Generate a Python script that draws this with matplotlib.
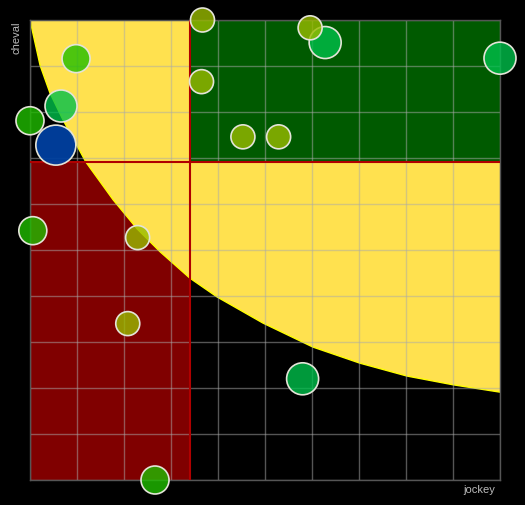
import matplotlib
matplotlib.use('Agg')
import matplotlib.pyplot as plt
from matplotlib.colors import to_rgba

W, H = 525, 505
DPI = 100

# bubbles: jockey score, cheval score, level (1..4)
jockey = [62.8, 59.6, 36.7, 100.0, 9.8, 36.5, 0.0, 6.6, 5.5, 45.3, 52.9, 0.6, 22.9, 20.8, 58.0, 26.6]
cheval = [95.1, 98.3, 100.0, 91.7, 91.6, 86.6, 78.1, 81.3, 72.8, 74.6, 74.6, 54.2, 52.7, 34.0, 22.0, 0.0]
niveau = [3, 1, 1, 3, 2, 1, 2, 3, 4, 1, 1, 2, 1, 1, 3, 2]

# limit curve
courbe_x = [0, 2.13, 4.26, 7.02, 11.9, 17.7, 22.8, 27.7, 34.0, 39.8, 49.6, 60.2, 70.2, 80.2, 90.0, 100]
courbe_y = [100, 90.2, 84.1, 78.3, 69.1, 60.9, 54.6, 49.6, 43.9, 39.8, 34.1, 28.9, 25.4, 22.6, 20.7, 19.1]

seuil_jockey = 34.0
seuil_cheval = 69.1

LEVEL_STYLE = {
    1: ('#99bb00', 0.8, 12),
    2: ('#20be00', 0.8, 14),
    3: ('#00c04b', 0.8, 16),
    4: ('#0040a0', 0.95, 20),
}

fig = plt.figure(figsize=(W / DPI, H / DPI), dpi=DPI)
fig.patch.set_facecolor('black')
ax = fig.add_axes([30 / W, 25 / H, 470 / W, 460 / H])
ax.set_facecolor('black')
ax.set_xlim(0, 100)
ax.set_ylim(0, 100)

# zones
ax.fill_between([0, seuil_jockey], 0, seuil_cheval, color='#800000', lw=0, zorder=1)
poly_x = courbe_x + [100, 0]
poly_y = courbe_y + [100, 100]
ax.fill(poly_x, poly_y, color='#ffe14f', lw=0, zorder=1.2)
ax.plot(courbe_x, courbe_y, color='#ffff00', lw=1.0, zorder=1.3)
ax.fill_between([seuil_jockey, 100], seuil_cheval, 100, color='#005a00', lw=0, zorder=1.4)

# grid
ax.set_xticks(range(0, 101, 10))
ax.set_yticks(range(0, 101, 10))
ax.tick_params(length=0, labelbottom=False, labelleft=False)
ax.set_axisbelow(False)
ax.grid(True, color='#aaaaaa', alpha=0.5, lw=1.0)
for s in ax.spines.values():
    s.set_color('#555555')
    s.set_linewidth(1.0)
    s.set_zorder(2.6)

# thresholds
ax.axvline(seuil_jockey, color='#b00000', lw=1.5, zorder=3)
ax.axhline(seuil_cheval, color='#b00000', lw=1.5, zorder=3)

# bubbles
faces, sizes = [], []
for n in niveau:
    col, a, r = LEVEL_STYLE[n]
    faces.append(to_rgba(col, a))
    d_pt = 2 * r * 72 / DPI
    sizes.append(d_pt ** 2)
ax.scatter(jockey, cheval, s=sizes, c=faces, edgecolors='#e4e4d8',
           linewidths=1.2, zorder=4, clip_on=False)

fig.text(16 / W, 1 - 22 / H, 'cheval', rotation=90, ha='center', va='top',
         fontsize=8, color='#bbbbbb', family='Liberation Sans')
fig.text(495 / W, 1 - 490 / H, 'jockey', ha='right', va='center',
         fontsize=8, color='#bbbbbb', family='Liberation Sans')

fig.savefig('out.png', dpi=DPI, facecolor='black')
